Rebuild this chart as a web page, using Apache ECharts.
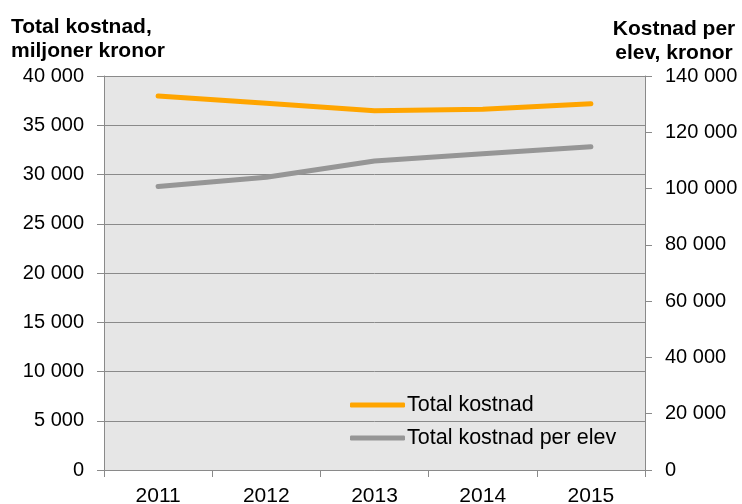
<!DOCTYPE html>
<html>
<head>
<meta charset="utf-8">
<script src="https://cdn.jsdelivr.net/npm/echarts@6/dist/echarts.min.js"></script>
<style>
  html, body { margin: 0; padding: 0; background: #fff; }
  #chart { width: 742px; height: 504px; }
</style>
</head>
<body>
<div id="chart"></div>
<script>
  // values
  const years = ['2011', '2012', '2013', '2014', '2015']
  const totalKostnad = [37970, 37230, 36480, 36620, 37190]
  const kostnadPerElev = [100700, 104000, 109800, 112400, 114900]

  const font = 'Liberation Sans, Arial, sans-serif'
  const gridColor = '#8a8a8a'

  function spaced(v) {
    return String(v).replace(/\B(?=(\d{3})+(?!\d))/g, ' ')
  }

  const chart = echarts.init(document.getElementById('chart'))
  chart.setOption({
    animation: false,
    textStyle: { fontFamily: font, color: '#000' },
    title: [
      {
        text: 'Total kostnad,\nmiljoner kronor',
        left: 11,
        top: 15,
        padding: 0,
        textStyle: { fontFamily: font, fontSize: 21, fontWeight: 'bold', color: '#000', lineHeight: 24 },
      },
      {
        text: 'Kostnad per\nelev, kronor',
        left: 674,
        top: 17,
        padding: 0,
        textAlign: 'center',
        textStyle: { fontFamily: font, fontSize: 21, fontWeight: 'bold', color: '#000', lineHeight: 24 },
      },
    ],
    grid: {
      left: 104,
      right: 97,
      top: 76,
      bottom: 34,
      outerBoundsMode: 'none',
      containLabel: false,
      show: true,
      backgroundColor: '#e6e6e6',
      borderWidth: 0,
    },
    legend: {
      orient: 'vertical',
      left: 350,
      top: 394,
      icon: 'roundRect',
      itemWidth: 55,
      itemHeight: 5,
      itemGap: 11,
      padding: 0,
      textStyle: { fontFamily: font, fontSize: 21.5, color: '#000', padding: [0, 0, 0, -3], lineHeight: 22 },
      data: ['Total kostnad', 'Total kostnad per elev'],
    },
    xAxis: {
      type: 'category',
      data: years,
      boundaryGap: true,
      axisLine: { lineStyle: { color: gridColor, width: 1 } },
      axisTick: { show: true, length: 7, lineStyle: { color: gridColor } },
      axisLabel: { fontSize: 21, color: '#000', margin: 16, fontFamily: font },
    },
    yAxis: [
      {
        type: 'value',
        min: 0,
        max: 40000,
        interval: 5000,
        axisLine: { show: true, lineStyle: { color: gridColor, width: 1 } },
        axisTick: { show: true, length: 7, lineStyle: { color: gridColor } },
        splitLine: { show: true, lineStyle: { color: gridColor, width: 1 } },
        axisLabel: { fontSize: 20, color: '#000', margin: 20, fontFamily: font, formatter: spaced },
      },
      {
        type: 'value',
        position: 'right',
        min: 0,
        max: 140000,
        interval: 20000,
        axisLine: { show: true, lineStyle: { color: gridColor, width: 1 } },
        axisTick: { show: true, length: 7, lineStyle: { color: gridColor } },
        splitLine: { show: false },
        axisLabel: { fontSize: 20, color: '#000', margin: 20, fontFamily: font, formatter: spaced },
      },
    ],
    series: [
      {
        name: 'Total kostnad',
        type: 'line',
        yAxisIndex: 0,
        symbol: 'none',
        data: totalKostnad,
        itemStyle: { color: '#ffa500' },
        lineStyle: { color: '#ffa500', width: 5, cap: 'round' },
      },
      {
        name: 'Total kostnad per elev',
        type: 'line',
        yAxisIndex: 1,
        symbol: 'none',
        data: kostnadPerElev,
        itemStyle: { color: '#969696' },
        lineStyle: { color: '#969696', width: 5, cap: 'round' },
      },
    ],
  })
</script>
</body>
</html>
